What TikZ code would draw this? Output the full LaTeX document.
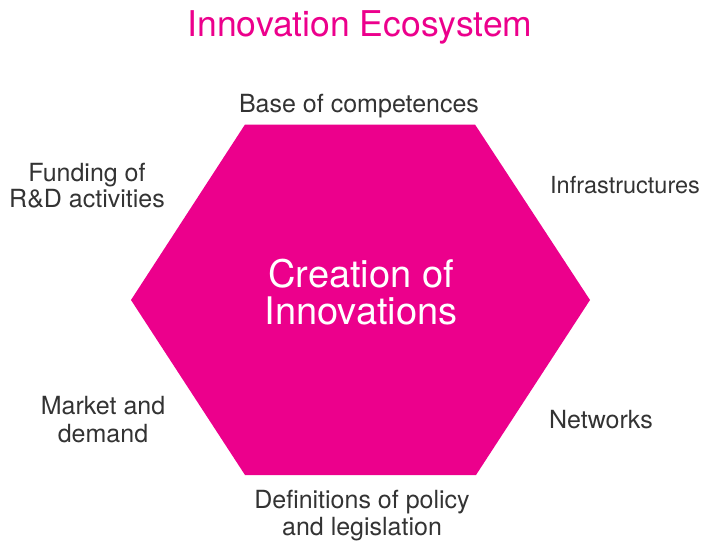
\documentclass[tikz,border=0pt]{standalone}
\usepackage{fontspec}
\setmainfont{TeX Gyre Heros}
\definecolor{mag}{HTML}{EC008C}
\definecolor{txt}{HTML}{333333}
\begin{document}
\begin{tikzpicture}[x=1pt,y=-1pt,
  lbl/.style={text=txt,font=\fontsize{25}{27}\selectfont,align=center,inner sep=0pt,anchor=base}]
\useasboundingbox (0,0) rectangle (707,542);
\coordinate (h1) at (245,124.5);
\coordinate (h2) at (475,124.5);
\coordinate (h3) at (590,300);
\coordinate (h4) at (476,475);
\coordinate (h5) at (245,475);
\coordinate (h6) at (131,300);
\fill[mag] (h1) -- (h2) -- (h3) -- (h4) -- (h5) -- (h6) -- cycle;
\node[anchor=base,text=mag,font=\fontsize{35.5}{40}\selectfont,inner sep=0pt] (title) at (360,36) {Innovation Ecosystem};
\node[anchor=base,text=white,font=\fontsize{38}{37}\selectfont,align=center,inner sep=0pt] (core) at (361,324) {Creation of\\Innovations};
\node[lbl] (base) at (359,112) {Base of competences};
\node[lbl,font=\fontsize{25}{25.5}\selectfont] (fund) at (87,207) {Funding of\\R\&D activities};
\node[lbl,anchor=base west,font=\fontsize{23.5}{27}\selectfont] (infra) at (550,193) {Infrastructures};
\node[lbl,font=\fontsize{25}{28}\selectfont] (market) at (103,442) {Market and\\demand};
\node[lbl] (net) at (601,428) {Networks};
\node[lbl] (policy) at (362,535) {Definitions of policy\\and legislation};
\end{tikzpicture}
\end{document}
